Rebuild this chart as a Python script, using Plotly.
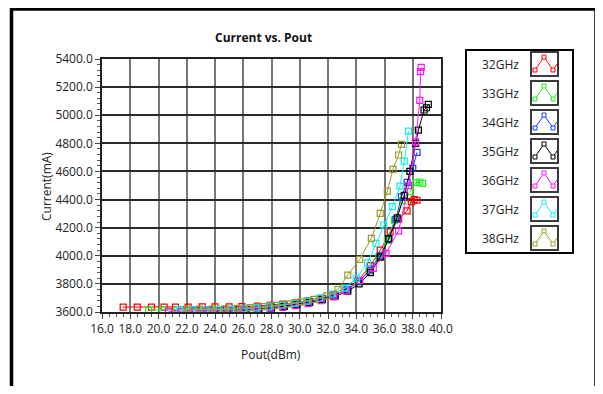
import plotly.graph_objects as go

# ---------------- data ----------------
series_names = ["32GHz", "33GHz", "34GHz", "35GHz", "36GHz", "37GHz", "38GHz"]
series_colors = ["#ff0000", "#22ee22", "#1a3cff", "#000000", "#ff10ff", "#10f0f0", "#9c9c2a"]

pout_32 = [17.5, 18.5, 19.5, 20.4, 21.2, 22.1, 23.1, 24.0, 25.0, 25.9, 27.0, 27.9, 28.8, 29.7, 30.6,
           31.5, 32.4, 33.3, 34.1, 35.0, 35.7, 36.4, 37.0, 37.6, 37.9, 38.1, 38.3]
cur_32 = [3635, 3635, 3635, 3635, 3635, 3635, 3636, 3636, 3637, 3638, 3642, 3648, 3656, 3666, 3680,
          3698, 3722, 3758, 3820, 3930, 4040, 4170, 4260, 4320, 4385, 4400, 4395]

pout_33 = [19.3, 20.3, 21.3, 22.2, 23.2, 24.1, 25.1, 26.0, 27.0, 27.9, 28.8, 29.7, 30.6, 31.5, 32.4,
           33.3, 34.1, 34.9, 35.6, 36.2, 36.7, 37.3, 37.8, 38.2, 38.5, 38.7]
cur_33 = [3615, 3615, 3615, 3616, 3617, 3618, 3620, 3625, 3632, 3640, 3650, 3662, 3676, 3696, 3722,
          3760, 3815, 3890, 3990, 4110, 4254, 4392, 4456, 4520, 4525, 4515]

pout_34 = [22.6, 23.5, 24.4, 25.3, 26.2, 27.1, 28.0, 28.9, 29.8, 30.7, 31.6, 32.5, 33.4, 34.2, 35.0,
           35.7, 36.3, 36.8, 37.2, 37.6, 38.0, 38.3]
cur_34 = [3612, 3613, 3614, 3616, 3620, 3627, 3636, 3647, 3660, 3676, 3697, 3724, 3762, 3820, 3900,
          4000, 4120, 4260, 4420, 4522, 4622, 4736]

pout_35 = [24.4, 25.3, 26.2, 27.1, 28.0, 28.9, 29.8, 30.7, 31.6, 32.5, 33.4, 34.2, 35.0, 35.7, 36.3,
           36.9, 37.4, 37.8, 38.2, 38.4, 38.8, 38.97, 39.1]
cur_35 = [3605, 3607, 3611, 3617, 3627, 3639, 3652, 3668, 3688, 3712, 3748, 3800, 3880, 3990, 4120,
          4270, 4430, 4600, 4800, 4894, 5037, 5053, 5077]

pout_36 = [20.7, 21.6, 22.5, 23.4, 24.3, 25.2, 26.1, 27.0, 27.9, 28.8, 29.7, 30.6, 31.5, 32.4, 33.3,
           34.25, 35.2, 36.1, 37.0, 37.7, 38.2, 38.5, 38.55, 38.6]
cur_36 = [3605, 3605, 3605, 3606, 3607, 3609, 3612, 3616, 3622, 3632, 3645, 3660, 3680, 3708, 3750,
          3824, 3911, 4017, 4177, 4500, 4811, 5105, 5310, 5340]

pout_37 = [21.5, 22.4, 23.3, 24.2, 25.1, 26.0, 26.9, 27.8, 28.7, 29.6, 30.5, 31.4, 32.3, 33.2, 34.0,
           34.8, 35.4, 35.95, 36.55, 37.1, 37.4, 37.7]
cur_37 = [3615, 3615, 3616, 3617, 3619, 3623, 3629, 3637, 3648, 3661, 3677, 3698, 3728, 3770, 3840,
          3950, 4089, 4219, 4349, 4496, 4674, 4887]

pout_38 = [22.0, 22.9, 23.8, 24.7, 25.6, 26.5, 27.4, 28.3, 29.2, 30.1, 31.0, 31.9, 32.7, 33.4, 34.25,
           35.07, 35.7, 36.2, 36.6, 37.0, 37.2]
cur_38 = [3620, 3620, 3621, 3623, 3626, 3631, 3638, 3647, 3658, 3672, 3690, 3715, 3760, 3863, 3975,
          4124, 4302, 4460, 4615, 4717, 4793]

x_data = [pout_32, pout_33, pout_34, pout_35, pout_36, pout_37, pout_38]
y_data = [cur_32, cur_33, cur_34, cur_35, cur_36, cur_37, cur_38]

title_text = "Current vs. Pout"
x_title = "Pout(dBm)"
y_title = "Current(mA)"

# ---------------- layout geometry (page pixels) ----------------
OFF = 8                          # page body margin
W, H = 603 - OFF, 394 - 2 * OFF  # figure size (fits inside the page without vertical scrolling)
PL, PR, PT, PB = 102, 441, 59, 312   # plot area in page pixels
L, R, T, B = PL - OFF, PR - OFF, PT - OFF, PB - OFF
FONT = "Open Sans"


def px(xp):
    return (xp - PL) / (PR - PL)


def py(yp):
    return (PB - yp) / (PB - PT)


fig = go.Figure()
for name, col, xs, ys in zip(series_names, series_colors, x_data, y_data):
    fig.add_trace(go.Scatter(
        x=xs, y=ys, name=name, mode="lines+markers",
        line=dict(color=col, width=1),
        marker=dict(symbol="square-open", size=6, color=col, line=dict(width=1.2, color=col)),
        showlegend=False,
    ))

shapes = []
annotations = []

# outer frame (left, top, right lines)
frame_path = (f"M {px(11.5):.5f},{py(420):.5f} L {px(11.5):.5f},{py(9):.5f} "
              f"L {px(596):.5f},{py(9):.5f} L {px(596):.5f},{py(420):.5f}")
shapes.append(dict(type="path", xref="paper", yref="paper", path=frame_path,
                   line=dict(color="#000", width=3.5), layer="above"))

# legend box
shapes.append(dict(type="rect", xref="paper", yref="paper",
                   x0=px(466), x1=px(573), y0=py(253), y1=py(50),
                   line=dict(color="#000", width=2), fillcolor="white", layer="above"))

for i, (name, col) in enumerate(zip(series_names, series_colors)):
    yc = 64 + 29 * i
    bx, by = 531, yc - 12
    shapes.append(dict(type="rect", xref="paper", yref="paper",
                       x0=px(bx), x1=px(bx + 27), y0=py(by + 24), y1=py(by),
                       line=dict(color="#3a3a3a", width=2), fillcolor="white", layer="above"))
    pts = [(bx + 4, by + 18), (bx + 13, by + 5), (bx + 22, by + 18), (bx + 26, by + 12)]
    path = "M " + " L ".join(f"{px(a):.5f},{py(b):.5f}" for a, b in pts)
    shapes.append(dict(type="path", xref="paper", yref="paper", path=path,
                       line=dict(color=col, width=1), layer="above"))
    for a, b in pts[:3]:
        shapes.append(dict(type="rect", xref="paper", yref="paper",
                           x0=px(a - 2), x1=px(a + 2), y0=py(b + 2), y1=py(b - 2),
                           line=dict(color=col, width=1), fillcolor="white", layer="above"))
    annotations.append(dict(text=name, xref="paper", yref="paper", x=px(521), y=py(yc),
                            xanchor="right", yanchor="middle", showarrow=False,
                            font=dict(family=FONT, size=12, color="#222")))

annotations.append(dict(text="<b>" + title_text + "</b>", xref="paper", yref="paper",
                        x=px(263), y=py(37), xanchor="center", yanchor="middle", showarrow=False,
                        font=dict(family=FONT, size=12, color="#111")))
annotations.append(dict(text=x_title, xref="paper", yref="paper",
                        x=px(271), y=py(354), xanchor="center", yanchor="middle", showarrow=False,
                        font=dict(family=FONT, size=12, color="#222")))
annotations.append(dict(text=y_title, xref="paper", yref="paper", textangle=-90,
                        x=px(46), y=py(187), xanchor="center", yanchor="middle", showarrow=False,
                        font=dict(family=FONT, size=12, color="#222")))

fig.update_layout(
    width=W, height=H,
    margin=dict(l=L, r=W - R, t=T, b=H - B, pad=0),
    paper_bgcolor="white", plot_bgcolor="white",
    font=dict(family=FONT, size=12, color="#222"),
    shapes=shapes, annotations=annotations,
    showlegend=False,
)
fig.update_xaxes(
    range=[16, 40], dtick=2, tick0=16, tickformat=".1f",
    showgrid=True, gridcolor="#777777", gridwidth=1.5,
    showline=True, linecolor="#222", linewidth=1.5, mirror=True,
    ticks="outside", ticklen=5, tickcolor="#444",
    minor=dict(dtick=0.5, ticks="outside", ticklen=3, tickcolor="#555", showgrid=False),
    zeroline=False, tickfont=dict(family=FONT, size=12, color="#222"),
)
fig.update_yaxes(
    range=[3600, 5400], dtick=200, tick0=3600, tickformat=".1f",
    showgrid=True, gridcolor="#2a2a2a", gridwidth=1.5,
    showline=True, linecolor="#222", linewidth=1.5, mirror=True,
    ticks="outside", ticklen=5, tickcolor="#444",
    minor=dict(dtick=40, ticks="outside", ticklen=3, tickcolor="#555", showgrid=False),
    zeroline=False, tickfont=dict(family=FONT, size=12, color="#222"),
)

fig.write_html("out.html")
